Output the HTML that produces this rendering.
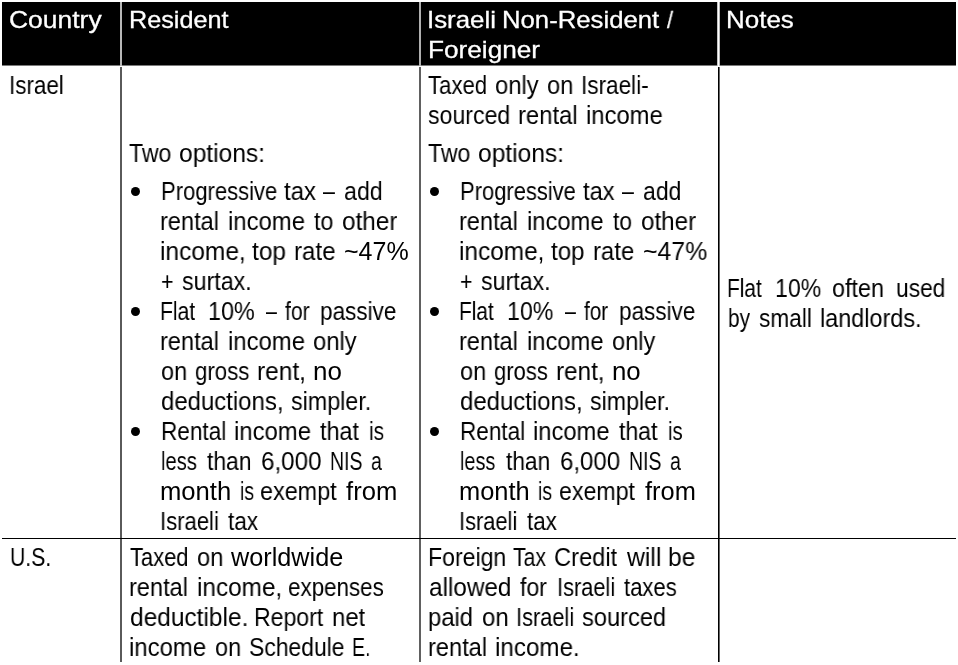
<!DOCTYPE html>
<html lang="en"><head><meta charset="utf-8"><title>Rental income tax table</title>
<style>
html,body{margin:0;padding:0;background:#fff;}
body{width:958px;height:665px;position:relative;overflow:hidden;font-family:"Liberation Sans",sans-serif;}
.t{position:absolute;white-space:nowrap;font-size:25px;line-height:30px;height:30px;transform-origin:0 0;color:#000;will-change:transform;}
.w{color:#fff;font-size:24px;-webkit-text-stroke:0.3px #fff;}
.hd{position:absolute;left:2px;top:2px;width:954px;height:63px;background:#000;border-bottom:1px solid #7a7a7a;}
.vh{position:absolute;top:2px;height:64px;width:2px;}
.vb{position:absolute;top:67px;height:595px;width:2px;}
.hr{position:absolute;left:2px;top:538px;width:954px;height:1px;background:#000;}
.dot{position:absolute;width:9px;height:9px;border-radius:50%;background:#000;}
</style></head><body>
<div class="hd"></div>
<div class="vh" style="left:120px;background:#b8b8b8"></div>
<div class="vh" style="left:419px;background:#b0b0b0"></div>
<div class="vh" style="left:717px;width:3px;background:linear-gradient(to right,#888 0,#fff 1px,#fff 2px,#777 3px)"></div>
<div class="vb" style="left:120px;background:#5a5a5a"></div>
<div class="vb" style="left:419px;background:#606060"></div>
<div class="vb" style="left:718px;background:linear-gradient(to right,#000 0,#000 1px,#666 1px,#666 2px)"></div>
<div class="hr"></div>

<div class="dot" style="left:131px;top:187px"></div>
<div class="dot" style="left:430px;top:187px"></div>
<div class="dot" style="left:131px;top:307px"></div>
<div class="dot" style="left:430px;top:307px"></div>
<div class="dot" style="left:131px;top:427px"></div>
<div class="dot" style="left:430px;top:427px"></div>
<div class="t w" style="left:9px;top:5px;transform:scaleX(1.1020)">Country</div>
<div class="t w" style="left:129px;top:5px;transform:scaleX(1.0507)">Resident</div>
<div class="t w" style="left:427px;top:5px;transform:scaleX(1.0758)">Israeli</div>
<div class="t w" style="left:502px;top:5px;transform:scaleX(1.0710)">Non-Resident</div>
<div class="t w" style="left:667px;top:5px;transform:scaleX(0.8980)">/</div>
<div class="t w" style="left:428px;top:35px;transform:scaleX(1.0913)">Foreigner</div>
<div class="t w" style="left:726px;top:5px;transform:scaleX(1.0813)">Notes</div>
<div class="t" style="left:9px;top:70px;transform:scaleX(0.8964)">Israel</div>
<div class="t" style="left:428px;top:70px;transform:scaleX(0.8863)">Taxed</div>
<div class="t" style="left:495px;top:70px;transform:scaleX(0.9523)">only</div>
<div class="t" style="left:547px;top:70px;transform:scaleX(0.9445)">on</div>
<div class="t" style="left:581px;top:70px;transform:scaleX(0.9015)">Israeli-</div>
<div class="t" style="left:428px;top:100px;transform:scaleX(0.9242)">sourced</div>
<div class="t" style="left:518px;top:100px;transform:scaleX(0.9535)">rental</div>
<div class="t" style="left:586px;top:100px;transform:scaleX(0.9525)">income</div>
<div class="t" style="left:129px;top:138px;transform:scaleX(0.9213)">Two</div>
<div class="t" style="left:179px;top:138px;transform:scaleX(0.9831)">options:</div>
<div class="t" style="left:428px;top:138px;transform:scaleX(0.9213)">Two</div>
<div class="t" style="left:478px;top:138px;transform:scaleX(0.9831)">options:</div>
<div class="t" style="left:161px;top:176px;transform:scaleX(0.8809)">Progressive</div>
<div class="t" style="left:284px;top:176px;transform:scaleX(0.9599)">tax</div>
<div class="t" style="left:323px;top:176px;transform:scaleX(0.8607)">–</div>
<div class="t" style="left:344px;top:176px;transform:scaleX(0.9282)">add</div>
<div class="t" style="left:460px;top:176px;transform:scaleX(0.8781)">Progressive</div>
<div class="t" style="left:583px;top:176px;transform:scaleX(0.9466)">tax</div>
<div class="t" style="left:622px;top:176px;transform:scaleX(0.8386)">–</div>
<div class="t" style="left:643px;top:176px;transform:scaleX(0.9195)">add</div>
<div class="t" style="left:160px;top:206px;transform:scaleX(0.9423)">rental</div>
<div class="t" style="left:228px;top:206px;transform:scaleX(0.9554)">income</div>
<div class="t" style="left:314px;top:206px;transform:scaleX(0.9242)">to</div>
<div class="t" style="left:342px;top:206px;transform:scaleX(0.9723)">other</div>
<div class="t" style="left:459px;top:206px;transform:scaleX(0.9408)">rental</div>
<div class="t" style="left:527px;top:206px;transform:scaleX(0.9496)">income</div>
<div class="t" style="left:613px;top:206px;transform:scaleX(0.9087)">to</div>
<div class="t" style="left:641px;top:206px;transform:scaleX(0.9674)">other</div>
<div class="t" style="left:160px;top:236px;transform:scaleX(0.9798)">income,</div>
<div class="t" style="left:252px;top:236px;transform:scaleX(0.9794)">top</div>
<div class="t" style="left:294px;top:236px;transform:scaleX(0.9642)">rate</div>
<div class="t" style="left:344px;top:236px;transform:scaleX(0.9954)">~47%</div>
<div class="t" style="left:459px;top:236px;transform:scaleX(0.9762)">income,</div>
<div class="t" style="left:551px;top:236px;transform:scaleX(0.9645)">top</div>
<div class="t" style="left:593px;top:236px;transform:scaleX(0.9568)">rate</div>
<div class="t" style="left:643px;top:236px;transform:scaleX(0.9923)">~47%</div>
<div class="t" style="left:161px;top:266px;transform:scaleX(0.8607)">+</div>
<div class="t" style="left:182px;top:266px;transform:scaleX(0.9292)">surtax.</div>
<div class="t" style="left:460px;top:266px;transform:scaleX(0.8547)">+</div>
<div class="t" style="left:481px;top:266px;transform:scaleX(0.9282)">surtax.</div>
<div class="t" style="left:160px;top:296px;transform:scaleX(0.8452)">Flat</div>
<div class="t" style="left:208px;top:296px;transform:scaleX(0.9340)">10%</div>
<div class="t" style="left:266px;top:296px;transform:scaleX(0.7800)">–</div>
<div class="t" style="left:285px;top:296px;transform:scaleX(0.8479)">for</div>
<div class="t" style="left:320px;top:296px;transform:scaleX(0.9017)">passive</div>
<div class="t" style="left:459px;top:296px;transform:scaleX(0.8326)">Flat</div>
<div class="t" style="left:507px;top:296px;transform:scaleX(0.9268)">10%</div>
<div class="t" style="left:565px;top:296px;transform:scaleX(0.7800)">–</div>
<div class="t" style="left:584px;top:296px;transform:scaleX(0.8278)">for</div>
<div class="t" style="left:619px;top:296px;transform:scaleX(0.9014)">passive</div>
<div class="t" style="left:160px;top:326px;transform:scaleX(0.9423)">rental</div>
<div class="t" style="left:228px;top:326px;transform:scaleX(0.9554)">income</div>
<div class="t" style="left:313px;top:326px;transform:scaleX(0.9523)">only</div>
<div class="t" style="left:459px;top:326px;transform:scaleX(0.9408)">rental</div>
<div class="t" style="left:527px;top:326px;transform:scaleX(0.9496)">income</div>
<div class="t" style="left:612px;top:326px;transform:scaleX(0.9455)">only</div>
<div class="t" style="left:161px;top:356px;transform:scaleX(0.9388)">on</div>
<div class="t" style="left:195px;top:356px;transform:scaleX(0.8874)">gross</div>
<div class="t" style="left:257px;top:356px;transform:scaleX(0.9790)">rent,</div>
<div class="t" style="left:313px;top:356px;transform:scaleX(1.0388)">no</div>
<div class="t" style="left:460px;top:356px;transform:scaleX(0.9400)">on</div>
<div class="t" style="left:494px;top:356px;transform:scaleX(0.8787)">gross</div>
<div class="t" style="left:556px;top:356px;transform:scaleX(0.9707)">rent,</div>
<div class="t" style="left:612px;top:356px;transform:scaleX(1.0336)">no</div>
<div class="t" style="left:161px;top:386px;transform:scaleX(0.9579)">deductions,</div>
<div class="t" style="left:291px;top:386px;transform:scaleX(0.9315)">simpler.</div>
<div class="t" style="left:460px;top:386px;transform:scaleX(0.9585)">deductions,</div>
<div class="t" style="left:590px;top:386px;transform:scaleX(0.9279)">simpler.</div>
<div class="t" style="left:161px;top:416px;transform:scaleX(0.9036)">Rental</div>
<div class="t" style="left:234px;top:416px;transform:scaleX(0.9554)">income</div>
<div class="t" style="left:320px;top:416px;transform:scaleX(0.9349)">that</div>
<div class="t" style="left:369px;top:416px;transform:scaleX(0.8370)">is</div>
<div class="t" style="left:460px;top:416px;transform:scaleX(0.9021)">Rental</div>
<div class="t" style="left:533px;top:416px;transform:scaleX(0.9496)">income</div>
<div class="t" style="left:619px;top:416px;transform:scaleX(0.9213)">that</div>
<div class="t" style="left:668px;top:416px;transform:scaleX(0.8128)">is</div>
<div class="t" style="left:161px;top:446px;transform:scaleX(0.8060)">less</div>
<div class="t" style="left:207px;top:446px;transform:scaleX(0.9156)">than</div>
<div class="t" style="left:261px;top:446px;transform:scaleX(0.9670)">6,000</div>
<div class="t" style="left:330px;top:446px;transform:scaleX(0.7800)">NIS</div>
<div class="t" style="left:371px;top:446px;transform:scaleX(0.7800)">a</div>
<div class="t" style="left:460px;top:446px;transform:scaleX(0.7941)">less</div>
<div class="t" style="left:506px;top:446px;transform:scaleX(0.9085)">than</div>
<div class="t" style="left:560px;top:446px;transform:scaleX(0.9603)">6,000</div>
<div class="t" style="left:629px;top:446px;transform:scaleX(0.7800)">NIS</div>
<div class="t" style="left:670px;top:446px;transform:scaleX(0.7800)">a</div>
<div class="t" style="left:160px;top:476px;transform:scaleX(1.0250)">month</div>
<div class="t" style="left:240px;top:476px;transform:scaleX(0.7800)">is</div>
<div class="t" style="left:260px;top:476px;transform:scaleX(0.9345)">exempt</div>
<div class="t" style="left:346px;top:476px;transform:scaleX(1.0258)">from</div>
<div class="t" style="left:459px;top:476px;transform:scaleX(1.0173)">month</div>
<div class="t" style="left:538px;top:476px;transform:scaleX(0.7800)">is</div>
<div class="t" style="left:559px;top:476px;transform:scaleX(0.9258)">exempt</div>
<div class="t" style="left:645px;top:476px;transform:scaleX(1.0168)">from</div>
<div class="t" style="left:160px;top:506px;transform:scaleX(0.8822)">Israeli</div>
<div class="t" style="left:228px;top:506px;transform:scaleX(0.9042)">tax</div>
<div class="t" style="left:459px;top:506px;transform:scaleX(0.8729)">Israeli</div>
<div class="t" style="left:527px;top:506px;transform:scaleX(0.8963)">tax</div>
<div class="t" style="left:727px;top:273px;transform:scaleX(0.8343)">Flat</div>
<div class="t" style="left:775px;top:273px;transform:scaleX(0.9244)">10%</div>
<div class="t" style="left:832px;top:273px;transform:scaleX(0.9349)">often</div>
<div class="t" style="left:896px;top:273px;transform:scaleX(0.9101)">used</div>
<div class="t" style="left:728px;top:303px;transform:scaleX(0.8322)">by</div>
<div class="t" style="left:759px;top:303px;transform:scaleX(0.9071)">small</div>
<div class="t" style="left:820px;top:303px;transform:scaleX(0.9368)">landlords.</div>
<div class="t" style="left:10px;top:542px;transform:scaleX(0.8468)">U.S.</div>
<div class="t" style="left:130px;top:542px;transform:scaleX(0.8764)">Taxed</div>
<div class="t" style="left:197px;top:542px;transform:scaleX(0.9454)">on</div>
<div class="t" style="left:231px;top:542px;transform:scaleX(1.0095)">worldwide</div>
<div class="t" style="left:129px;top:572px;transform:scaleX(0.9423)">rental</div>
<div class="t" style="left:197px;top:572px;transform:scaleX(0.9734)">income,</div>
<div class="t" style="left:288px;top:572px;transform:scaleX(0.8953)">expenses</div>
<div class="t" style="left:130px;top:602px;transform:scaleX(0.9792)">deductible.</div>
<div class="t" style="left:254px;top:602px;transform:scaleX(0.9234)">Report</div>
<div class="t" style="left:332px;top:602px;transform:scaleX(0.9563)">net</div>
<div class="t" style="left:129px;top:632px;transform:scaleX(0.9566)">income</div>
<div class="t" style="left:215px;top:632px;transform:scaleX(0.9388)">on</div>
<div class="t" style="left:249px;top:632px;transform:scaleX(0.9162)">Schedule</div>
<div class="t" style="left:352px;top:632px;transform:scaleX(0.7800)">E.</div>
<div class="t" style="left:428px;top:542px;transform:scaleX(0.9232)">Foreign</div>
<div class="t" style="left:513px;top:542px;transform:scaleX(0.8468)">Tax</div>
<div class="t" style="left:554px;top:542px;transform:scaleX(0.9471)">Credit</div>
<div class="t" style="left:627px;top:542px;transform:scaleX(0.9894)">will</div>
<div class="t" style="left:668px;top:542px;transform:scaleX(0.9808)">be</div>
<div class="t" style="left:429px;top:572px;transform:scaleX(0.9724)">allowed</div>
<div class="t" style="left:520px;top:572px;transform:scaleX(0.9217)">for</div>
<div class="t" style="left:557px;top:572px;transform:scaleX(0.8712)">Israeli</div>
<div class="t" style="left:624px;top:572px;transform:scaleX(0.8835)">taxes</div>
<div class="t" style="left:428px;top:602px;transform:scaleX(0.9533)">paid</div>
<div class="t" style="left:482px;top:602px;transform:scaleX(0.9575)">on</div>
<div class="t" style="left:516px;top:602px;transform:scaleX(0.8712)">Israeli</div>
<div class="t" style="left:582px;top:602px;transform:scaleX(0.9451)">sourced</div>
<div class="t" style="left:428px;top:632px;transform:scaleX(0.9440)">rental</div>
<div class="t" style="left:495px;top:632px;transform:scaleX(0.9678)">income.</div>
</body></html>
